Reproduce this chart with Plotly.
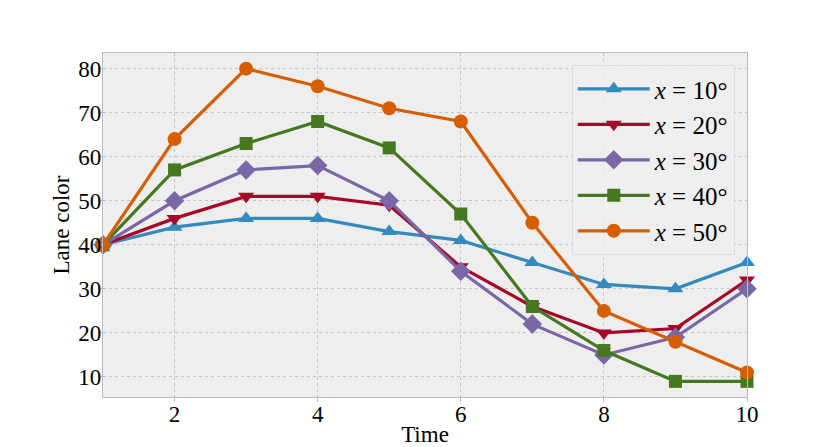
import plotly.graph_objects as go

time = [1, 2, 3, 4, 5, 6, 7, 8, 9, 10]
labels = ["10°", "20°", "30°", "40°", "50°"]
s10 = [40, 44, 46, 46, 43, 41, 36, 31, 30, 36]
s20 = [40, 46, 51, 51, 49, 35, 26, 20, 21, 32]
s30 = [40, 50, 57, 58, 50, 34, 22, 15, 19, 30]
s40 = [40, 57, 63, 68, 62, 47, 26, 16, 9, 9]
s50 = [40, 64, 80, 76, 71, 68, 45, 25, 18, 11]

series = [s10, s20, s30, s40, s50]
colors = ["#348ABD", "#A60628", "#7A68A6", "#467821", "#D55E00"]
symbols = ["triangle-up", "triangle-down", "diamond", "square", "circle"]
sizes = [14, 14, 15, 13, 14]

fig = go.Figure()
for vals, lab, col, sym, sz in zip(series, labels, colors, symbols, sizes):
    fig.add_trace(go.Scatter(
        x=time, y=vals, mode="lines+markers",
        line=dict(color=col, width=3.2),
        marker=dict(symbol=sym, size=sz, color=col),
        name="<i>x</i> = " + lab,
        cliponaxis=False,
    ))

# page body has an 8px margin, so margins are shifted to keep the plot box in place
grid = dict(showgrid=True, gridcolor="#c4c4c4", gridwidth=0.8, griddash="dot",
            showline=True, linecolor="#bcbcbc", linewidth=1.2, mirror=True,
            zeroline=False, ticks="outside", ticklen=4, tickcolor="#bcbcbc",
            tickfont=dict(size=23, color="black"), automargin=False,
            ticklabelstandoff=-8)

fig.update_xaxes(range=[1, 10], dtick=2, tick0=2,
                 title=dict(text="Time", font=dict(size=23, color="black"), standoff=0),
                 **grid)
fig.update_yaxes(range=[5.45, 83.55], dtick=10, tick0=10,
                 title=dict(text="Lane color", font=dict(size=23, color="black"), standoff=2),
                 **grid)

fig.update_layout(
    width=830, height=447,
    margin=dict(l=95, r=91, t=45, b=58),
    plot_bgcolor="#eeeeee", paper_bgcolor="white",
    font=dict(family="Liberation Serif, Times New Roman, serif", color="black"),
    legend=dict(x=0.981, y=0.965, xanchor="right", yanchor="top",
                bgcolor="rgba(238,238,238,0.85)", bordercolor="#dcdcdc", borderwidth=1,
                font=dict(size=25), itemwidth=72, tracegroupgap=0),
)

fig.write_html("out.html")
